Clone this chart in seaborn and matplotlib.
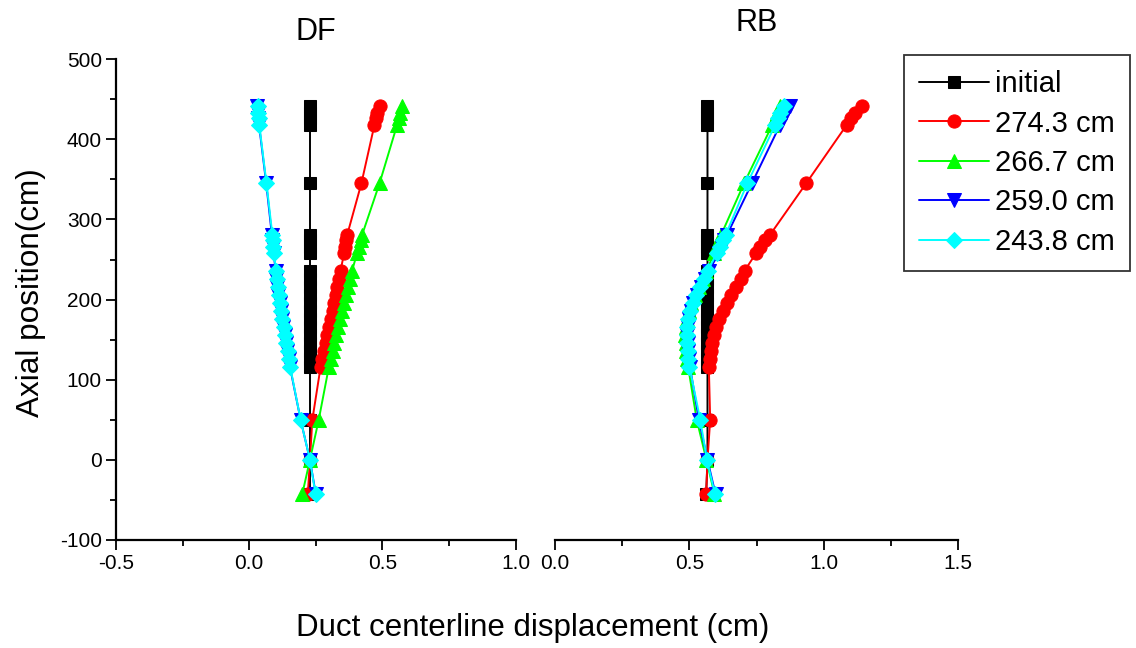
import numpy as np
import pandas as pd
import matplotlib
matplotlib.use("Agg")
import matplotlib.pyplot as plt
import seaborn as sns
from matplotlib.ticker import MultipleLocator, FormatStrFormatter

# axial positions of the measurement points (cm)
axial = [-43, 0, 50, 116, 126, 136, 146, 156, 166, 176, 186, 196, 206, 216,
         226, 236, 258, 266, 274, 281, 345, 418, 426, 433, 441]

labels = ["initial", "274.3 cm", "266.7 cm", "259.0 cm", "243.8 cm"]
colors = ["#000000", "#ff0000", "#00ff00", "#0000ff", "#00ffff"]
markers = ["s", "o", "^", "v", "D"]
msizes = [9, 9.5, 9.5, 9.5, 8.5]

# DF duct displacement (cm)
df_initial = [0.228] * 25
df_274 = [0.220, 0.228, 0.237, 0.268, 0.274, 0.281, 0.287, 0.293, 0.300, 0.306,
          0.313, 0.319, 0.325, 0.331, 0.337, 0.343, 0.356, 0.360, 0.364, 0.368,
          0.421, 0.470, 0.476, 0.481, 0.490]
df_266 = [0.199, 0.228, 0.261, 0.299, 0.306, 0.313, 0.320, 0.327, 0.335, 0.342,
          0.349, 0.357, 0.364, 0.371, 0.378, 0.386, 0.405, 0.411, 0.418, 0.424,
          0.489, 0.555, 0.561, 0.567, 0.574]
df_259 = [0.250, 0.228, 0.193, 0.153, 0.148, 0.143, 0.138, 0.133, 0.128, 0.123,
          0.118, 0.114, 0.110, 0.106, 0.102, 0.099, 0.092, 0.089, 0.087, 0.085,
          0.064, 0.037, 0.035, 0.033, 0.031]
df_243 = [0.249, 0.228, 0.193, 0.154, 0.149, 0.144, 0.139, 0.134, 0.129, 0.124,
          0.119, 0.115, 0.111, 0.107, 0.103, 0.100, 0.094, 0.091, 0.089, 0.087,
          0.065, 0.038, 0.036, 0.034, 0.032]

# RB duct displacement (cm)
rb_initial = [0.562] + [0.567] * 24
rb_274 = [0.562, 0.567, 0.577, 0.572, 0.576, 0.580, 0.585, 0.590, 0.598, 0.608,
          0.624, 0.640, 0.655, 0.674, 0.690, 0.705, 0.748, 0.763, 0.780, 0.800,
          0.934, 1.085, 1.100, 1.116, 1.141]
rb_266 = [0.593, 0.563, 0.527, 0.495, 0.491, 0.488, 0.486, 0.485, 0.486, 0.491,
          0.498, 0.507, 0.519, 0.535, 0.550, 0.563, 0.592, 0.600, 0.609, 0.618,
          0.703, 0.808, 0.817, 0.826, 0.836]
rb_259 = [0.597, 0.567, 0.535, 0.502, 0.498, 0.495, 0.493, 0.492, 0.493, 0.498,
          0.505, 0.514, 0.527, 0.543, 0.558, 0.572, 0.610, 0.620, 0.630, 0.640,
          0.732, 0.837, 0.848, 0.860, 0.875]
rb_243 = [0.595, 0.565, 0.540, 0.500, 0.496, 0.493, 0.491, 0.490, 0.491, 0.496,
          0.503, 0.512, 0.524, 0.540, 0.555, 0.568, 0.602, 0.614, 0.625, 0.635,
          0.715, 0.819, 0.828, 0.838, 0.850]

df_series = [df_initial, df_274, df_266, df_259, df_243]
rb_series = [rb_initial, rb_274, rb_266, rb_259, rb_243]

sns.set_style("ticks")
plt.rcParams["font.family"] = ["Liberation Sans", "DejaVu Sans"]
plt.rcParams["axes.unicode_minus"] = False
plt.rcParams["text.color"] = "black"
plt.rcParams["axes.labelcolor"] = "black"

fig = plt.figure(figsize=(11.36, 6.48), dpi=100)
ax1 = fig.add_axes([0.102, 0.1667, 0.352, 0.742])
ax2 = fig.add_axes([0.4886, 0.1667, 0.355, 0.742])

for ax, series in [(ax1, df_series), (ax2, rb_series)]:
    for vals, lab, col, mk, ms in zip(series, labels, colors, markers, msizes):
        sns.lineplot(x=vals, y=axial, ax=ax, sort=False, estimator=None,
                     color=col, marker=mk, markersize=ms, markeredgecolor=col,
                     linewidth=1.4, label=lab, legend=False)
    ax.set_ylim(-100, 500)
    ax.xaxis.set_major_locator(MultipleLocator(0.5))
    ax.xaxis.set_minor_locator(MultipleLocator(0.25))
    ax.yaxis.set_major_locator(MultipleLocator(100))
    ax.yaxis.set_minor_locator(MultipleLocator(50))
    ax.tick_params(axis="both", which="major", direction="out", length=7, width=1.3,
                   labelsize=15, colors="black", pad=3)
    ax.tick_params(axis="both", which="minor", direction="out", length=4, width=1.3,
                   colors="black")
    for s in ["top", "right"]:
        ax.spines[s].set_visible(False)
    for s in ["left", "bottom"]:
        ax.spines[s].set_linewidth(1.6)
        ax.spines[s].set_color("black")
    ax.xaxis.set_major_formatter(FormatStrFormatter("%.1f"))

ax1.set_xlim(-0.5, 1.0)
ax2.set_xlim(0.0, 1.5)
ax2.spines["left"].set_visible(False)
ax2.tick_params(axis="y", which="both", left=False, labelleft=False)

ax1.set_title("DF", fontsize=22, pad=14)
ax2.set_title("RB", fontsize=22, pad=20)
fig.text(0.027, 0.549, "Axial position(cm)", fontsize=22.7, rotation=90,
         ha="center", va="center")
fig.text(0.469, 0.031, "Duct centerline displacement (cm)", fontsize=22.5,
         ha="center", va="center")

handles, labs = ax1.get_legend_handles_labels()
leg = fig.legend(handles, labs, loc="upper left", bbox_to_anchor=(0.796, 0.915),
                 fontsize=21, frameon=True, fancybox=False, edgecolor="black",
                 handlelength=2.4, handletextpad=0.2, labelspacing=0.39,
                 borderpad=0.52, borderaxespad=0, numpoints=1)
leg.get_frame().set_linewidth(1.3)

fig.savefig("out.png", dpi=100, facecolor="white")
